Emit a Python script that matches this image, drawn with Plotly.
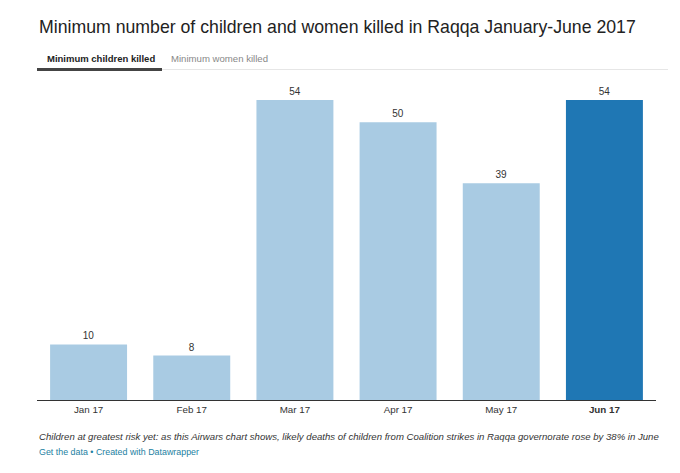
import plotly.graph_objects as go

months = ["Jan 17", "Feb 17", "Mar 17", "Apr 17", "May 17", "Jun 17"]
children_killed = [10, 8, 54, 50, 39, 54]
highlight_month = "Jun 17"

title = "Minimum number of children and women killed in Raqqa January-June 2017"
tab_active = "Minimum children killed"
tab_inactive = "Minimum women killed"
caption = ("Children at greatest risk yet: as this Airwars chart shows, likely deaths of children "
           "from Coalition strikes in Raqqa governorate rose by 38% in June")
source = "Get the data \u2022 Created with Datawrapper"

LIGHT = "#a9cbe3"
DARK = "#1f77b4"
FONT = "Liberation Sans, Arial, sans-serif"

colors = [DARK if m == highlight_month else LIGHT for m in months]
ticktext = [f"<b>{m}</b>" if m == highlight_month else m for m in months]

fig = go.Figure(go.Bar(
    x=months, y=children_killed,
    marker=dict(color=colors, line=dict(width=0)),
    text=[str(v) for v in children_killed],
    textposition="outside",
    textfont=dict(size=10, color="#333", family=FONT),
    cliponaxis=False,
    constraintext="none",
    hoverinfo="x+y",
))

fig.update_layout(
    width=680, height=473,
    margin=dict(l=37, r=24, t=100, b=73),
    paper_bgcolor="white", plot_bgcolor="white",
    bargap=0.254,
    showlegend=False,
    font=dict(family=FONT, color="#333"),
    xaxis=dict(
        tickmode="array", tickvals=months, ticktext=ticktext,
        tickfont=dict(size=9.8, color="#333"),
        showline=True, linecolor="#333", linewidth=1,
        ticks="", showgrid=False, zeroline=False,
        fixedrange=True,
    ),
    yaxis=dict(
        range=[0, 54], visible=False, showgrid=False, zeroline=False,
        fixedrange=True,
    ),
    shapes=[
        dict(type="line", xref="paper", yref="paper",
             x0=(162 - 37) / 619, x1=(668 - 37) / 619,
             y0=(400 - 69.5) / 300, y1=(400 - 69.5) / 300,
             line=dict(color="#e6e6e6", width=1)),
        dict(type="line", xref="paper", yref="paper",
             x0=0, x1=(162 - 37) / 619,
             y0=(400 - 69.5) / 300, y1=(400 - 69.5) / 300,
             line=dict(color="#444", width=3)),
    ],
    annotations=[
        dict(text=title, xref="paper", yref="paper", x=0, y=(400 - 27) / 300,
             xanchor="left", yanchor="middle", showarrow=False,
             font=dict(size=17.7, color="#222", family=FONT)),
        dict(text=f"<b>{tab_active}</b>", xref="paper", yref="paper",
             x=(45 - 37) / 619, y=(400 - 58.5) / 300,
             xanchor="left", yanchor="middle", showarrow=False,
             font=dict(size=9.5, color="#222", family=FONT)),
        dict(text=tab_inactive, xref="paper", yref="paper",
             x=(169 - 37) / 619, y=(400 - 58.5) / 300,
             xanchor="left", yanchor="middle", showarrow=False,
             font=dict(size=9.6, color="#888", family=FONT)),
        dict(text=f"<i>{caption}</i>", xref="paper", yref="paper",
             x=0, y=-(436 - 400) / 300,
             xanchor="left", yanchor="middle", showarrow=False,
             font=dict(size=9.6, color="#333", family=FONT)),
        dict(text=source, xref="paper", yref="paper",
             x=0, y=-(452 - 400) / 300,
             xanchor="left", yanchor="middle", showarrow=False,
             font=dict(size=8.9, color="#1d81a2", family=FONT)),
    ],
)

fig.write_html("out.html")
